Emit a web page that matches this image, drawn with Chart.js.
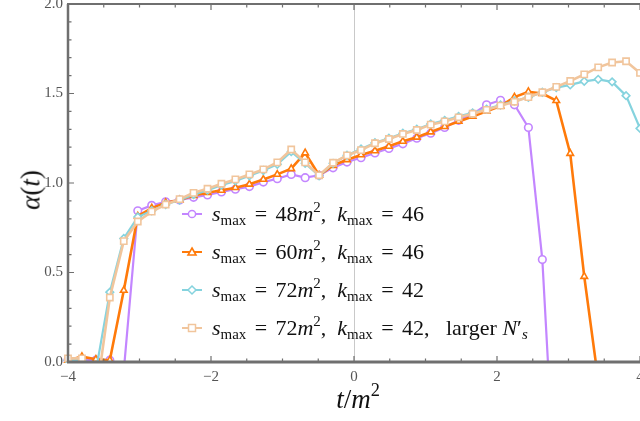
<!DOCTYPE html>
<html>
<head>
<meta charset="utf-8">
<script src="https://cdn.jsdelivr.net/npm/chart.js@4.4.1/dist/chart.umd.min.js"></script>
<style>
  body { margin: 0; background: #fff; }
  #wrap { position: relative; width: 640px; height: 421px; overflow: hidden; }
  #plot { position: absolute; left: 0; top: 0; }
  .tex { font-family: "Liberation Serif", "DejaVu Serif", serif; color: #111; }
  .tex i { font-style: italic; }
  .tex sub { font-size: 0.68em; vertical-align: -0.3em; line-height: 0; }
  .tex sup { font-size: 0.68em; vertical-align: 0.6em; line-height: 0; }
  .eq { margin: 0 0.38em; }
  #legend { position: absolute; left: 182px; top: 195px; font-size: 22px; }
  #legend .row { height: 38px; display: flex; align-items: center; white-space: nowrap; }
  #legend svg { margin-right: 10px; }
  #ylab { position: absolute; left: 31px; top: 190px; font-size: 27px;
          transform: translate(-50%, -50%) rotate(-90deg); white-space: nowrap; }
  #xlab { position: absolute; left: 358px; top: 399px; font-size: 27px;
          transform: translate(-50%, -50%); white-space: nowrap; }
</style>
</head>
<body>
<div id="wrap">
  <canvas id="plot" width="640" height="421"></canvas>
  <div id="ylab" class="tex"><i>α</i>(<i>t</i>)</div>
  <div id="xlab" class="tex"><i>t</i>/<i>m</i><sup>2</sup></div>
  <div id="legend" class="tex"></div>
</div>
<script>
// t grid (t/m^2), 42 points from -4 to 4
const tValues = [-4.000, -3.805, -3.610, -3.415, -3.220, -3.024, -2.829, -2.634, -2.439, -2.244,
  -2.049, -1.854, -1.659, -1.463, -1.268, -1.073, -0.878, -0.683, -0.488, -0.293,
  -0.098, 0.098, 0.293, 0.488, 0.683, 0.878, 1.073, 1.268, 1.463, 1.659,
  1.854, 2.049, 2.244, 2.439, 2.634, 2.829, 3.024, 3.220, 3.415, 3.610,
  3.805, 4.000];

// s_max = 48 m^2, k_max = 46
const alpha48 = [0.01, 0.01, 0.01, 0.01, -0.05, 0.845, 0.875, 0.895, 0.905, 0.92,
  0.933, 0.95, 0.965, 0.98, 1.005, 1.024, 1.048, 1.03, 1.043, 1.085,
  1.117, 1.141, 1.168, 1.193, 1.219, 1.25, 1.278, 1.31, 1.35, 1.385,
  1.437, 1.462, 1.437, 1.31, 0.572, -0.85, null, null, null, null,
  null, null];

// s_max = 60 m^2, k_max = 46
const alpha60 = [0.01, 0.03, 0.015, 0.01, 0.40, 0.815, 0.86, 0.89, 0.905, 0.93,
  0.946, 0.959, 0.974, 0.993, 1.02, 1.048, 1.08, 1.168, 1.043, 1.098,
  1.13, 1.157, 1.18, 1.205, 1.233, 1.256, 1.285, 1.315, 1.344, 1.372,
  1.40, 1.43, 1.48, 1.51, 1.50, 1.46, 1.165, 0.478, -0.1, null,
  null, null];

// s_max = 72 m^2, k_max = 42
const alpha72 = [0.01, 0.01, -0.05, 0.39, 0.69, 0.81, 0.845, 0.88, 0.905, 0.935,
  0.96, 0.988, 1.012, 1.04, 1.07, 1.105, 1.175, 1.11, 1.04, 1.11,
  1.155, 1.19, 1.225, 1.25, 1.278, 1.30, 1.33, 1.35, 1.372, 1.392,
  1.413, 1.436, 1.458, 1.478, 1.507, 1.533, 1.548, 1.568, 1.579, 1.565,
  1.488, 1.305];

// s_max = 72 m^2, k_max = 42, larger N'_s
const alpha72N = [0.02, 0.02, -0.2, 0.36, 0.675, 0.785, 0.84, 0.88, 0.91, 0.945,
  0.968, 0.996, 1.02, 1.048, 1.076, 1.115, 1.187, 1.115, 1.043, 1.113,
  1.154, 1.184, 1.222, 1.246, 1.274, 1.296, 1.326, 1.344, 1.367, 1.387,
  1.409, 1.432, 1.454, 1.48, 1.507, 1.537, 1.57, 1.607, 1.646, 1.673,
  1.68, 1.615];

const xTickLabels = [-4, -2, 0, 2, 4];
const yTickLabels = [0, 0.5, 1, 1.5, 2];

const series = [
  { name: 's48', values: alpha48, color: '#c386ff', style: 'circle', width: 2.2, order: 4,
    html: '<i>s</i><sub>max</sub><span class="eq">=</span>48<i>m</i><sup>2</sup>,&nbsp;&nbsp;<i>k</i><sub>max</sub><span class="eq">=</span>46' },
  { name: 's60', values: alpha60, color: '#ff7a0a', style: 'triangle', width: 2.6, order: 3,
    html: '<i>s</i><sub>max</sub><span class="eq">=</span>60<i>m</i><sup>2</sup>,&nbsp;&nbsp;<i>k</i><sub>max</sub><span class="eq">=</span>46' },
  { name: 's72', values: alpha72, color: '#85d3de', style: 'rectRot', width: 2.2, order: 2,
    html: '<i>s</i><sub>max</sub><span class="eq">=</span>72<i>m</i><sup>2</sup>,&nbsp;&nbsp;<i>k</i><sub>max</sub><span class="eq">=</span>42' },
  { name: 's72N', values: alpha72N, color: '#f1c59c', style: 'rect', width: 2.6, order: 1,
    html: '<i>s</i><sub>max</sub><span class="eq">=</span>72<i>m</i><sup>2</sup>,&nbsp;&nbsp;<i>k</i><sub>max</sub><span class="eq">=</span>42,&nbsp;&nbsp;&nbsp;larger&nbsp;<i>N</i>′<sub><i>s</i></sub>' }
];

const AXIS = '#6f6f6f';

// frame with inward ticks, like the original
const framePlugin = {
  id: 'frame',
  beforeDatasetsDraw(chart) {
    const { ctx, chartArea: a, scales: { x } } = chart;
    const px = x.getPixelForValue(0);
    ctx.save();
    ctx.strokeStyle = '#c9c9c9';
    ctx.lineWidth = 1;
    ctx.beginPath();
    ctx.moveTo(Math.round(px) + 0.5, a.top);
    ctx.lineTo(Math.round(px) + 0.5, a.bottom);
    ctx.stroke();
    ctx.restore();
  },
  afterDatasetsDraw(chart) {
    const { ctx, chartArea: a, scales: { x, y } } = chart;
    ctx.save();
    ctx.strokeStyle = AXIS;
    ctx.lineWidth = 1.2;
    ctx.beginPath();
    for (let v = -4; v <= 4.001; v += 0.5) {
      const p = x.getPixelForValue(v);
      const len = xTickLabels.some(t => Math.abs(t - v) < 1e-6) ? 6 : 3.5;
      ctx.moveTo(p, a.bottom); ctx.lineTo(p, a.bottom - len);
      ctx.moveTo(p, a.top); ctx.lineTo(p, a.top + len);
    }
    for (let v = 0; v <= 2.001; v += 0.1) {
      const p = y.getPixelForValue(v);
      const len = yTickLabels.some(t => Math.abs(t - v) < 1e-6) ? 6 : 3.5;
      ctx.moveTo(a.left, p); ctx.lineTo(a.left + len, p);
    }
    ctx.stroke();
    ctx.lineWidth = 2.5;
    ctx.beginPath();
    ctx.moveTo(a.left, a.top); ctx.lineTo(a.left, a.bottom);
    ctx.stroke();
    ctx.lineWidth = 3;
    ctx.beginPath();
    ctx.moveTo(a.left - 1, a.bottom); ctx.lineTo(a.right, a.bottom);
    ctx.stroke();
    ctx.lineWidth = 2;
    ctx.beginPath();
    ctx.moveTo(a.left - 1, a.top); ctx.lineTo(a.right, a.top);
    ctx.stroke();
    ctx.restore();
  }
};

const datasets = series.map(s => ({
  label: s.name,
  data: tValues.map((t, i) => ({ x: t, y: s.values[i] })).filter(p => p.y !== null),
  borderColor: s.color,
  borderWidth: s.width,
  pointStyle: s.style,
  pointRadius: s.style === 'rect' ? 4.4 : 3.8,
  pointBorderWidth: 1.6,
  pointBackgroundColor: '#fff',
  pointBorderColor: s.color,
  tension: 0,
  order: s.order,
  clip: { left: 5, top: 3, right: 0, bottom: 1 }
}));

const fmt = v => (v < 0 ? '\u2212' + (-v) : String(v));

new Chart(document.getElementById('plot'), {
  type: 'line',
  data: { datasets },
  options: {
    responsive: false,
    animation: false,
    events: [],
    layout: { autoPadding: false, padding: { top: 4, right: 0, left: 0, bottom: 0 } },
    plugins: { legend: { display: false }, tooltip: { enabled: false } },
    scales: {
      x: {
        type: 'linear', min: -4, max: 4,
        afterBuildTicks(s) { s.ticks = xTickLabels.map(v => ({ value: v })); },
        ticks: { callback: fmt, padding: 6, color: '#555', maxRotation: 0,
                 font: { family: 'Liberation Serif', size: 15 } },
        grid: { display: false, drawTicks: false },
        border: { display: false },
        afterFit(s) { s.height = 59; s.paddingLeft = 0; s.paddingRight = 0; }
      },
      y: {
        type: 'linear', min: 0, max: 2,
        afterBuildTicks(s) { s.ticks = yTickLabels.map(v => ({ value: v })); },
        ticks: { callback: v => v.toFixed(1), padding: 5, color: '#555',
                 font: { family: 'Liberation Serif', size: 15 } },
        grid: { display: false, drawTicks: false },
        border: { display: false },
        afterFit(s) { s.width = 68; s.paddingTop = 0; s.paddingBottom = 0; }
      }
    }
  },
  plugins: [framePlugin]
});

// legend (math text as html)
function marker(style, color) {
  let shape = '';
  if (style === 'circle') shape = `<circle cx="10" cy="7" r="3.6" fill="#fff" stroke="${color}" stroke-width="1.5"/>`;
  if (style === 'triangle') shape = `<polygon points="10,3 14,10 6,10" fill="#fff" stroke="${color}" stroke-width="1.6"/>`;
  if (style === 'rectRot') shape = `<polygon points="10,3 14,7 10,11 6,7" fill="#fff" stroke="${color}" stroke-width="1.5"/>`;
  if (style === 'rect') shape = `<rect x="6.5" y="3.5" width="7" height="7" fill="#fff" stroke="${color}" stroke-width="1.5"/>`;
  return `<svg width="20" height="14" viewBox="0 0 20 14"><line x1="0" y1="7" x2="20" y2="7" stroke="${color}" stroke-width="2"/>${shape}</svg>`;
}
document.getElementById('legend').innerHTML = series
  .map(s => `<div class="row">${marker(s.style, s.color)}<span>${s.html}</span></div>`).join('');
</script>
</body>
</html>
